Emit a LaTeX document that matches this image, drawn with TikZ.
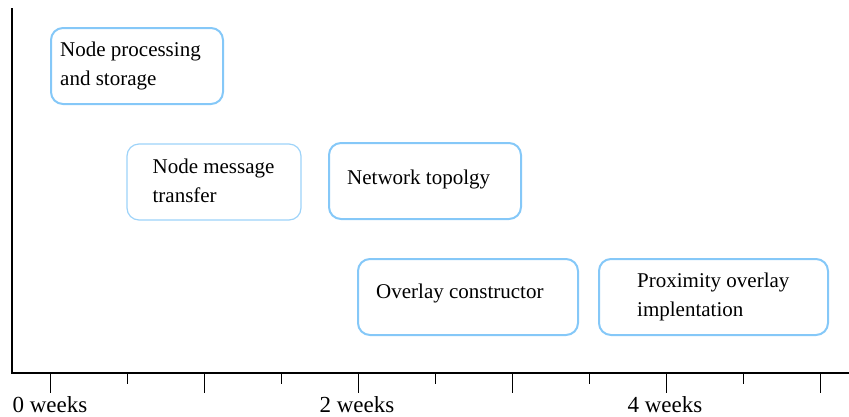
\documentclass[tikz,border=0pt]{standalone}
\usepackage{fontspec}
\setmainfont{Liberation Serif}
\begin{document}
\begin{tikzpicture}[x=1pt,y=-1pt,
  box/.style={draw=boxblue,line width=2pt,rounded corners=12pt,minimum width=#1,minimum height=76pt,inner sep=0pt},
  lbox/.style={draw=boxblue!80,line width=1.2pt,rounded corners=12pt,minimum width=#1,minimum height=76pt,inner sep=0pt},
  txt/.style={anchor=west,align=left,inner sep=0pt,font=\fontsize{21}{29}\selectfont},
  wk/.style={anchor=base,inner sep=0pt,font=\fontsize{23}{27}\selectfont},
  axis/.style={line width=1.4pt,black},
  tick/.style={line width=1pt,black}]
\definecolor{boxblue}{HTML}{85C8F8}
\useasboundingbox (0,0) rectangle (849,416);
% axes
\coordinate (top) at (12,8);
\coordinate (orig) at (12,373);
\coordinate (xend) at (849,373);
\draw[axis] (top) -- (orig) -- (xend);
% ticks
\foreach \i in {0,...,10}{
  \pgfmathsetmacro{\xx}{50+77*\i}
  \pgfmathtruncatemacro{\ev}{mod(\i,2)}
  \ifnum\ev=0
    \draw[tick] (\xx,373) -- (\xx,393);
  \else
    \draw[tick] (\xx,373) -- (\xx,384);
  \fi
}
\node[wk] (w0) at (50,412) {0 weeks};
\node[wk] (w2) at (357,412) {2 weeks};
\node[wk] (w4) at (665,412) {4 weeks};
% boxes
\node[box=172pt] (b1) at (137,66) {};
\node[txt] (t1) at ([xshift=10pt]b1.west) {Node processing\\and storage};
\node[lbox=174pt] (b2) at (214,182) {};
\node[txt] (t2) at ([xshift=26pt,yshift=1.5pt]b2.west) {Node message\\transfer};
\node[box=192pt] (b3) at (425,181) {};
\node[txt] (t3) at ([xshift=19pt,yshift=2pt]b3.west) {Network topolgy};
\node[box=220pt] (b4) at (468,297) {};
\node[txt] (t4) at ([xshift=19pt,yshift=4pt]b4.west) {Overlay constructor};
\node[box=229pt] (b5) at (713.5,297) {};
\node[txt] (t5) at ([xshift=39pt]b5.west) {Proximity overlay\\implentation};
\end{tikzpicture}
\end{document}
